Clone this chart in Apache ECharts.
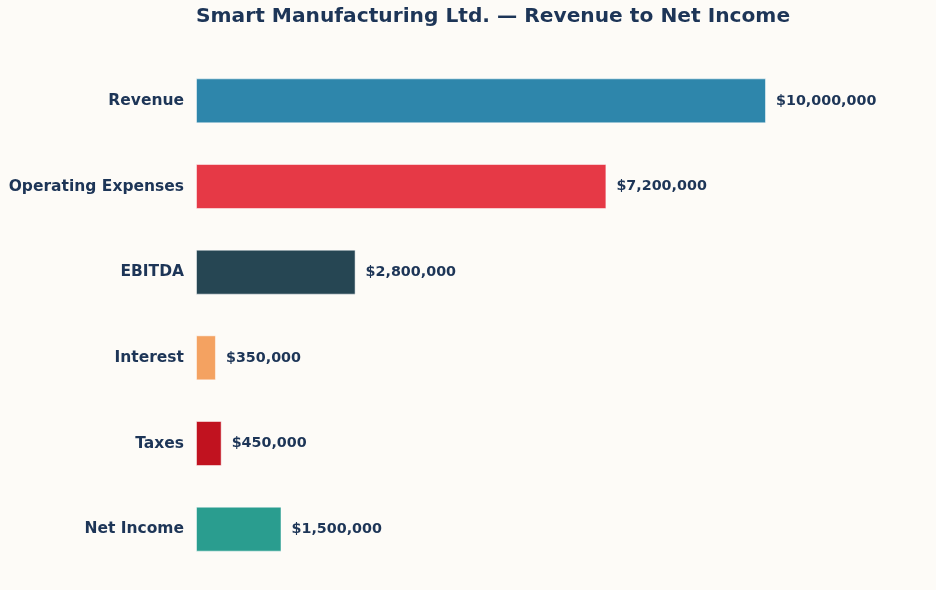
<!DOCTYPE html>
<html>
<head>
<meta charset="utf-8">
<script src="https://cdn.jsdelivr.net/npm/echarts@6/dist/echarts.min.js"></script>
<style>
html,body{margin:0;padding:0;background:#FDFBF7;}
#c{width:936px;height:590px;}
</style>
</head>
<body>
<div id="c"></div>
<script>
const categories = ["Revenue", "Operating Expenses", "EBITDA", "Interest", "Taxes", "Net Income"];
const values = [10000000, 7200000, 2800000, 350000, 450000, 1500000];
const colors = ["#2E86AB", "#E63946", "#264653", "#F4A261", "#C1121F", "#2A9D8F"];

const chart = echarts.init(document.getElementById('c'));
const fmt = v => '$' + v.toLocaleString('en-US');
chart.setOption({
  backgroundColor: '#FDFBF7',
  animation: false,
  title: {
    text: 'Smart Manufacturing Ltd. \u2014 Revenue to Net Income',
    left: 191, top: 2,
    textStyle: {fontFamily: 'DejaVu Sans', fontWeight: 'bold', fontSize: 20.2, color: '#1D3557'}
  },
  grid: {left: 196, right: 170, top: 58, bottom: 18, containLabel: false},
  xAxis: {
    type: 'value', min: 0, max: 10000000,
    show: false
  },
  yAxis: {
    type: 'category', inverse: true, data: categories,
    axisLine: {show: false}, axisTick: {show: false},
    axisLabel: {margin: 12, fontFamily: 'DejaVu Sans', fontWeight: 'bold', fontSize: 15.5, color: '#1D3557'}
  },
  series: [{
    type: 'bar',
    barWidth: 45,
    data: values.map((v, i) => ({value: v, itemStyle: {color: colors[i]}})),
    itemStyle: {borderColor: 'rgba(255,255,255,0.5)', borderWidth: 1},
    label: {
      show: true, position: 'right', distance: 10,
      formatter: p => fmt(p.value),
      fontFamily: 'DejaVu Sans', fontWeight: 'bold', fontSize: 14.3, color: '#1D3557'
    }
  }]
});
</script>
</body>
</html>
